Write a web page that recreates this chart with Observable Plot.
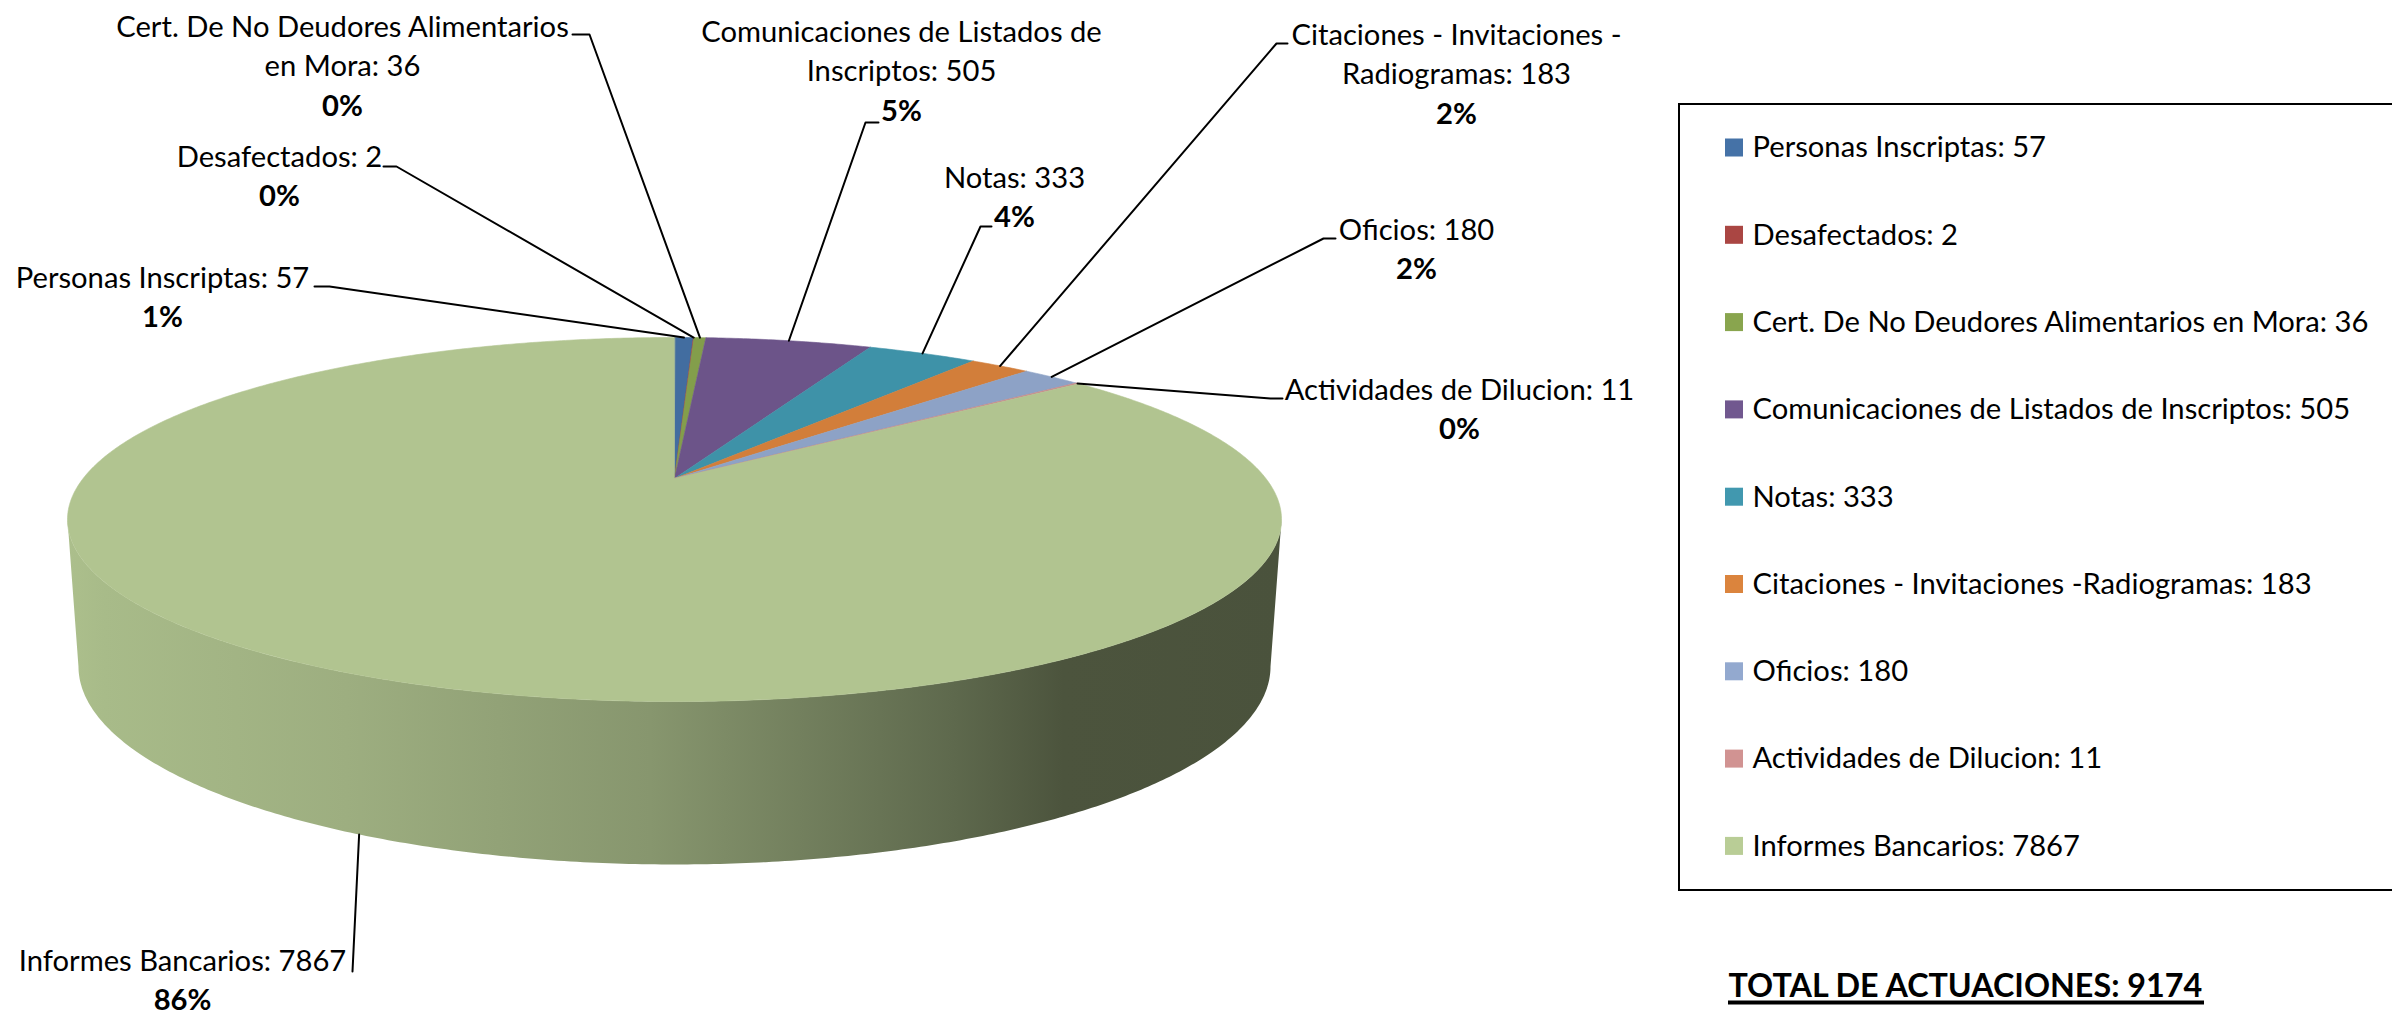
<!DOCTYPE html>
<html>
<head>
<meta charset="utf-8">
<script src="https://cdn.jsdelivr.net/npm/d3@7"></script>
<script src="https://cdn.jsdelivr.net/npm/@observablehq/plot@0.6"></script>
<style>
html, body { margin: 0; padding: 0; background: #fff; overflow: hidden; }
#chart svg { display: block; }
</style>
</head>
<body>
<div id="chart"></div>
<script>
// ---------------- DATA ----------------
const categories = [
  "Personas Inscriptas",
  "Desafectados",
  "Cert. De No Deudores Alimentarios en Mora",
  "Comunicaciones de Listados de Inscriptos",
  "Notas",
  "Citaciones - Invitaciones -Radiogramas",
  "Oficios",
  "Actividades de Dilucion",
  "Informes Bancarios"
];
const values = [57, 2, 36, 505, 333, 183, 180, 11, 7867];
const percentLabels = ["1%", "0%", "0%", "5%", "4%", "2%", "2%", "0%", "86%"];
const totalLabel = "TOTAL DE ACTUACIONES: 9174";
const colors = ["#4572A7", "#AA4643", "#89A54E", "#71588F", "#4198AF", "#DB843D", "#93A9CF", "#D19392", "#B9CD96"];

// ---------------- LAYOUT ----------------
const W = 2392, H = 1016;
// perspective-projected disk: x = cx + A*u/(1-k v), y = cy + B*v/(1-k v)
const pie = {cx: 674, cy: 478, A: 591.4, B: 172.8, k: 0.2253, A2: 580.7, B2: 188, cy2: 621.3};
const lineGap = 39.5;
// label placement (first line centre, leader bend point, tick length, where the line meets the pie)
const labelLayout = [
  {x: 162,  y: 278, brk: null,             ax: 329,  ay: 286, tick: -15, edge: "top"},
  {x: 279,  y: 157, brk: null,             ax: 396,  ay: 166, tick: -13, edge: "top"},
  {x: 342,  y: 27,  brk: "Alimentarios",   ax: 589,  ay: 34,  tick: -17, edge: "top"},
  {x: 901,  y: 32,  brk: "Listados de",    ax: 865,  ay: 122, tick: 13,  edge: "top"},
  {x: 1014, y: 178, brk: null,             ax: 980,  ay: 226, tick: 11,  edge: "top"},
  {x: 1456, y: 35,  brk: "Invitaciones -", ax: 1276, ay: 43,  tick: 11,  edge: "top"},
  {x: 1416, y: 230, brk: null,             ax: 1323, ay: 238, tick: 12,  edge: "top"},
  {x: 1459, y: 390, brk: null,             ax: 1270, ay: 398, tick: 12,  edge: "top"},
  {x: 182,  y: 961, brk: null,             ax: 352,  ay: 971, tick: 0,   edge: "bottom"}
];
const legendLayout = {x1: 1679, y1: 104, x2: 2440, y2: 890, row0: 147.5, rowGap: 87.3, sw: 1725, sz: 18, tx: 1752};
const totalLayout = {x: 1728, y: 986, underlineGap: 16, underlineWidth: 4};
// side shading (fraction of pie width -> brightness factor)
const sideStops = [[0, 0.93], [0.03, 0.91], [0.23, 0.85], [0.48, 0.73], [0.73, 0.51], [0.82, 0.41], [1, 0.40]];

// ---------------- FONT SIZES (fit to reference widths) ----------------
const FONT = "Lato";
const ctx = document.createElement("canvas").getContext("2d");
function measure(t, weight) { ctx.font = `${weight} 100px ${FONT}`; return ctx.measureText(t).width / 100; }
const fsText = 617 / measure(categories[2] + ": " + values[2], 400);
const fsTotal = 476 / measure(totalLabel, 700);
const totalWidth = measure(totalLabel, 700) * fsTotal;

// ---------------- GEOMETRY ----------------
const TAU = Math.PI * 2;
const total = d3.sum(values);
let acc = 0;
const slices = values.map((v, i) => {
  const a0 = acc / total * TAU; acc += v; const a1 = acc / total * TAU;
  return {i, cat: categories[i], value: v, a0, a1, mid: (a0 + a1) / 2};
});
function topPt(phi) {
  const u = Math.sin(phi), v = -Math.cos(phi), d = 1 - pie.k * v;
  return [pie.cx + pie.A * u / d, pie.cy + pie.B * v / d];
}
function botPt(phi) {
  const u = Math.sin(phi), v = -Math.cos(phi), d = 1 - pie.k * v;
  return [pie.cx + pie.A2 * u / d, pie.cy2 + pie.B2 * v / d];
}
function arc(f, a0, a1) {
  const n = Math.max(2, Math.ceil((a1 - a0) / (Math.PI / 360)));
  return d3.range(n + 1).map(j => f(a0 + (a1 - a0) * j / n));
}
const pieColor = colors.map(c => d3.color(c).darker(0.12).formatHex());

// top faces
const topRows = slices.flatMap(s =>
  [[pie.cx, pie.cy], ...arc(topPt, s.a0, s.a1)].map(([x, y]) => ({cat: s.cat, x, y, fill: pieColor[s.i]}))
);
// visible side walls
const phiR = Math.acos(-pie.k), phiL = TAU - phiR;
const sides = slices.map(s => {
  const lo = Math.max(s.a0, phiR), hi = Math.min(s.a1, phiL);
  if (hi <= lo) return null;
  const pts = [...arc(topPt, lo, hi), ...arc(botPt, lo, hi).reverse()].map(([x, y]) => ({x, y}));
  return {i: s.i, pts};
}).filter(Boolean);

// leader lines
const leaderRows = slices.flatMap(s => {
  const L = labelLayout[s.i];
  const e = L.edge === "top" ? topPt(s.mid) : botPt(s.mid);
  const pts = [e, [L.ax, L.ay]];
  if (L.tick) pts.push([L.ax + L.tick, L.ay]);
  return pts.map(([x, y]) => ({cat: s.cat, x, y}));
});

// label text rows
const nameRows = [], pctRows = [];
slices.forEach(s => {
  const L = labelLayout[s.i];
  const full = s.cat + ": " + s.value;
  let lines = [full];
  if (L.brk) {
    const p = full.indexOf(L.brk) + L.brk.length;
    lines = [full.slice(0, p).trim(), full.slice(p).trim()];
  }
  lines.forEach((t, j) => nameRows.push({x: L.x, y: L.y + j * lineGap, text: t}));
  pctRows.push({x: L.x, y: L.y + lines.length * lineGap, text: percentLabels[s.i]});
});

// legend rows
const legendRows = slices.map(s => {
  const y = legendLayout.row0 + s.i * legendLayout.rowGap;
  return {
    label: s.cat + ": " + s.value, color: colors[s.i], y,
    x1: legendLayout.sw, x2: legendLayout.sw + legendLayout.sz,
    y1: y - legendLayout.sz / 2, y2: y + legendLayout.sz / 2, tx: legendLayout.tx
  };
});
const totalRow = {x: totalLayout.x, y: totalLayout.y, text: totalLabel,
  ux1: totalLayout.x, ux2: totalLayout.x + totalWidth, uy: totalLayout.y + totalLayout.underlineGap};

// ---------------- PLOT ----------------
const svg = Plot.plot({
  width: W, height: H, margin: 0,
  style: {background: "#fff"},
  x: {type: "linear", domain: [0, W], range: [0, W], axis: null},
  y: {type: "linear", domain: [0, H], range: [0, H], axis: null},
  color: {type: "identity"},
  marks: [
    ...sides.map(s => Plot.line(s.pts, {x: "x", y: "y", fill: `url(#side${s.i})`, stroke: "none", curve: "linear-closed"})),
    Plot.line(topRows, {x: "x", y: "y", z: "cat", fill: "fill", stroke: "fill", strokeWidth: 0.6, curve: "linear-closed"}),
    Plot.line(leaderRows, {x: "x", y: "y", z: "cat", stroke: "#000", strokeWidth: 2, curve: "linear"}),
    Plot.text(nameRows, {x: "x", y: "y", text: "text", fontSize: fsText, fontFamily: FONT, fill: "#000", textAnchor: "middle"}),
    Plot.text(pctRows, {x: "x", y: "y", text: "text", fontSize: fsText, fontFamily: FONT, fontWeight: "bold", fill: "#000", textAnchor: "middle"}),
    Plot.rect([legendLayout], {x1: "x1", x2: "x2", y1: "y1", y2: "y2", fill: "none", stroke: "#000", strokeWidth: 2}),
    Plot.rect(legendRows, {x1: "x1", x2: "x2", y1: "y1", y2: "y2", fill: "color"}),
    Plot.text(legendRows, {x: "tx", y: "y", text: "label", fontSize: fsText, fontFamily: FONT, fill: "#000", textAnchor: "start"}),
    Plot.text([totalRow], {x: "x", y: "y", text: "text", fontSize: fsTotal, fontFamily: FONT, fontWeight: "bold", fill: "#000", textAnchor: "start"}),
    Plot.ruleY([totalRow], {y: "uy", x1: "ux1", x2: "ux2", stroke: "#000", strokeWidth: totalLayout.underlineWidth})
  ]
});

// gradients for side walls
const defs = d3.select(svg).insert("defs", ":first-child");
sides.forEach(s => {
  const base = d3.rgb(colors[s.i]);
  const g = defs.append("linearGradient").attr("id", `side${s.i}`).attr("x1", 0).attr("x2", 1).attr("y1", 0).attr("y2", 0);
  sideStops.forEach(([o, f]) => {
    g.append("stop").attr("offset", o).attr("stop-color", d3.rgb(base.r * f, base.g * f, base.b * f).formatHex());
  });
});

document.getElementById("chart").appendChild(svg);
</script>
</body>
</html>
